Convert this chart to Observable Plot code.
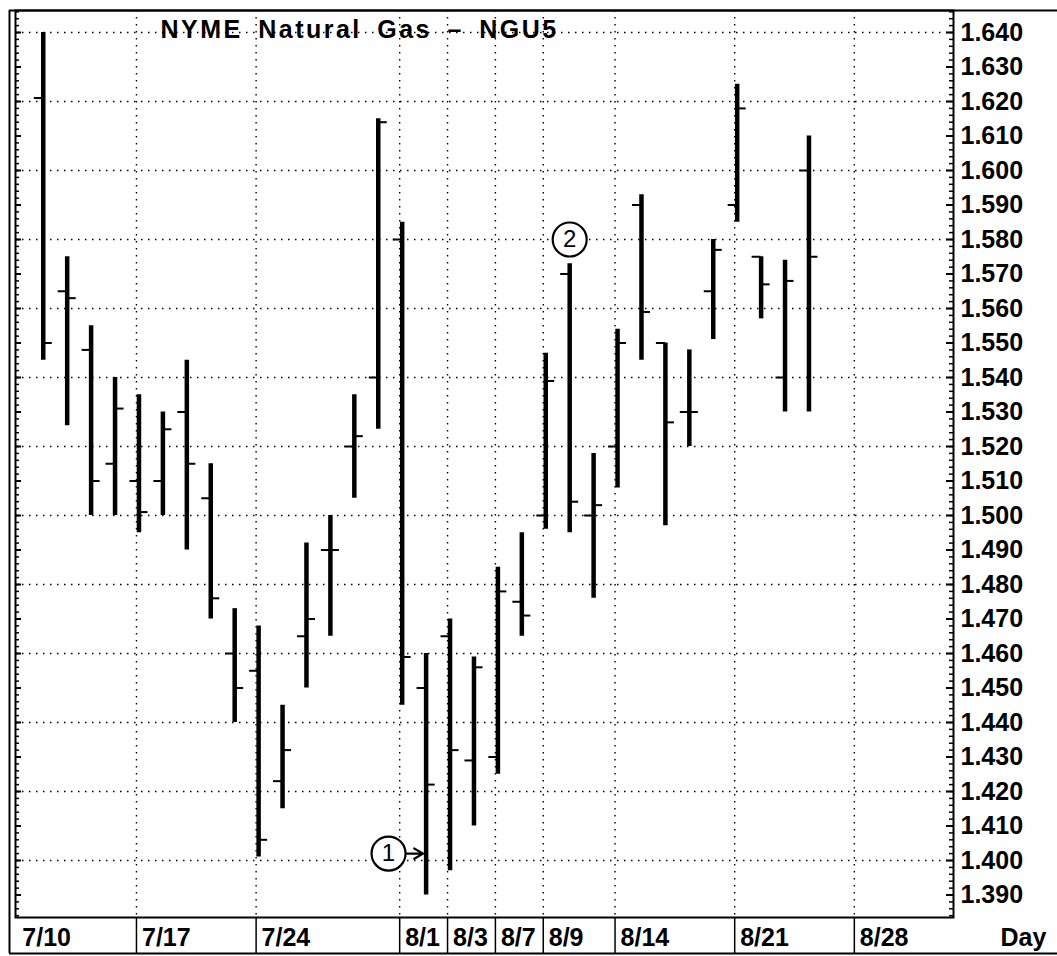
<!DOCTYPE html>
<html>
<head>
<meta charset="utf-8">
<script src="https://cdn.jsdelivr.net/npm/d3@7"></script>
<script src="https://cdn.jsdelivr.net/npm/@observablehq/plot@0.6"></script>
<style>
  html, body { margin: 0; padding: 0; background: #fff; }
  svg { display: block; }
</style>
</head>
<body>
<div id="chart"></div>
<script>
// ---------- data ----------
const title = "NYME Natural Gas \u2013 NGU5";
const dates = ["7/11","7/12","7/13","7/14","7/17","7/18","7/19","7/20","7/21",
  "7/24","7/25","7/26","7/27","7/28","7/31","8/1","8/2","8/3","8/4",
  "8/7","8/8","8/9","8/10","8/11","8/14","8/15","8/16","8/17","8/18",
  "8/21","8/22","8/23","8/24"];
// trading-day index counted from 7/10 (= 0)
const dayIndex = [1,2,3,4,5,6,7,8,9,10,11,12,13,14,15,16,17,18,19,20,21,22,23,24,25,26,27,28,29,30,31,32,33];
const open  = [1.621,1.565,1.548,1.515,1.510,1.510,1.530,1.505,1.460,1.455,1.423,1.465,1.490,1.520,1.540,1.580,1.450,1.465,1.429,1.430,1.475,1.500,1.570,1.500,1.520,1.590,1.550,1.530,1.565,1.590,1.575,1.540,1.600];
const high  = [1.640,1.575,1.555,1.540,1.535,1.530,1.545,1.515,1.473,1.468,1.445,1.492,1.500,1.535,1.615,1.585,1.460,1.470,1.459,1.485,1.495,1.547,1.573,1.518,1.554,1.593,1.550,1.548,1.580,1.625,1.575,1.574,1.610];
const low   = [1.545,1.526,1.500,1.500,1.495,1.500,1.490,1.470,1.440,1.401,1.415,1.450,1.465,1.505,1.525,1.445,1.390,1.397,1.410,1.425,1.465,1.496,1.495,1.476,1.508,1.545,1.497,1.520,1.551,1.585,1.557,1.530,1.530];
const close = [1.550,1.563,1.510,1.531,1.501,1.525,1.515,1.476,1.450,1.406,1.432,1.470,1.490,1.523,1.614,1.459,1.422,1.432,1.456,1.478,1.471,1.539,1.504,1.503,1.550,1.559,1.527,1.530,1.577,1.618,1.567,1.568,1.575];

const labelDates = ["7/10","7/17","7/24","8/1","8/3","8/7","8/9","8/14","8/21","8/28"];
const labelIndex = [0,5,10,16,18,20,22,25,30,35];

const yTickValues = d3.range(139, 165).map(d => d / 100);          // 1.390 … 1.640
const yMinorValues = d3.range(692, 824).map(d => d / 500);          // every 0.002
const gridPrices = d3.range(70, 83).map(d => d / 50);               // 1.40 … 1.64

const annLabels = ["1", "2"];
const annIndex  = [15.43, 23];
const annPrice  = [1.402, 1.580];
const arrowTargetIndex = [17];

// ---------- tables ----------
const bars = dates.map((d, k) => ({date: d, i: dayIndex[k], open: open[k], high: high[k], low: low[k], close: close[k]}));
const labels = labelDates.map((d, k) => ({date: d, i: labelIndex[k]}));
const anns = annLabels.map((d, k) => ({label: d, i: annIndex[k], price: annPrice[k]}));
const arrows = arrowTargetIndex.map((t, k) => ({i1: annIndex[k], i2: t, price: annPrice[k]}));

// ---------- layout ----------
const W = 1057, H = 956;
const mL = 15, mR = 104, mT = 10, mB = 39;
const plotW = W - mL - mR, plotH = H - mT - mB;
const xDomain = [-0.16, 39.04];
const yDomain = [1.38348, 1.64638];
const font = "Liberation Sans, Arial, Helvetica, sans-serif";
const dotted = {stroke: "#000", strokeWidth: 1.4, strokeDasharray: "1.5,5.5"};

const chart = Plot.plot({
  width: W, height: H,
  marginLeft: mL, marginRight: mR, marginTop: mT, marginBottom: mB,
  style: {background: "#fff", color: "#000", fontFamily: font, overflow: "visible"},
  x: {domain: xDomain, axis: null},
  y: {domain: yDomain, axis: null},
  marks: [
    // dotted grid
    Plot.ruleY(gridPrices, dotted),
    Plot.ruleX(labelIndex.slice(1), {...dotted, dx: -2.5}),
    // frame and outer borders
    Plot.frame({stroke: "#000", strokeWidth: 2}),
    Plot.ruleY([yDomain[1]], {insetLeft: -6, insetRight: -mR, stroke: "#000", strokeWidth: 2}),
    Plot.ruleY([yDomain[0]], {dy: 36, insetLeft: -6, insetRight: -mR, stroke: "#000", strokeWidth: 2}),
    Plot.ruleX([xDomain[0]], {dx: -6, insetBottom: -36, stroke: "#000", strokeWidth: 2}),
    Plot.ruleX(labelIndex.slice(1), {dx: -2.5, insetTop: plotH, insetBottom: -36, stroke: "#000", strokeWidth: 1.5}),
    // axis ticks (inward) right and left
    Plot.tickY(yMinorValues, {insetLeft: plotW - 4, stroke: "#000", strokeWidth: 1.5}),
    Plot.tickY(yTickValues, {insetLeft: plotW - 7, stroke: "#000", strokeWidth: 2}),
    Plot.tickY(yMinorValues, {insetRight: plotW - 4, stroke: "#000", strokeWidth: 1.5}),
    Plot.tickY(yTickValues, {insetRight: plotW - 6, stroke: "#000", strokeWidth: 2}),
    Plot.axisY({anchor: "right", ticks: yTickValues, tickSize: 0, tickPadding: 7,
      tickFormat: d3.format(".3f"), label: null, fontSize: 25, fontWeight: "bold", fontFamily: font}),
    // x labels
    Plot.text(labels, {x: "i", text: "date", frameAnchor: "bottom", dx: 3, dy: 28,
      textAnchor: "start", lineAnchor: "bottom", fontSize: 25, fontWeight: "bold", fontFamily: font, fill: "#000"}),
    Plot.text(["Day"], {frameAnchor: "bottom-right", dx: 47, dy: 28, textAnchor: "start",
      lineAnchor: "bottom", fontSize: 25, fontWeight: "bold", fontFamily: font, fill: "#000"}),
    // title
    Plot.text([title], {frameAnchor: "top-left", dx: 145, dy: 27, textAnchor: "start",
      lineAnchor: "bottom", fontSize: 25, fontWeight: "bold", fontFamily: font, fill: "#000"}),
    // OHLC bars
    Plot.ruleX(bars, {x: "i", y1: "low", y2: "high", stroke: "#000", strokeWidth: 4.5}),
    Plot.ruleY(bars, {y: "open", x1: "i", x2: "i", insetLeft: -9, stroke: "#000", strokeWidth: 2}),
    Plot.ruleY(bars, {y: "close", x1: "i", x2: "i", insetRight: -9, stroke: "#000", strokeWidth: 2}),
    // annotations
    Plot.arrow(arrows, {x1: "i1", y1: "price", x2: "i2", y2: "price", insetStart: 18, insetEnd: 3,
      headLength: 7, stroke: "#000", strokeWidth: 2.2}),
    Plot.dot(anns, {x: "i", y: "price", r: 17, fill: "#fff", stroke: "#000", strokeWidth: 2.2}),
    Plot.text(anns, {x: "i", y: "price", text: "label", fontSize: 24, fontFamily: font, fill: "#000"})
  ]
});

d3.select(chart).selectAll("text")
  .filter(function() { return this.textContent === title; })
  .style("letter-spacing", "2.5px").style("word-spacing", "6px");

document.getElementById("chart").appendChild(chart);
</script>
</body>
</html>
